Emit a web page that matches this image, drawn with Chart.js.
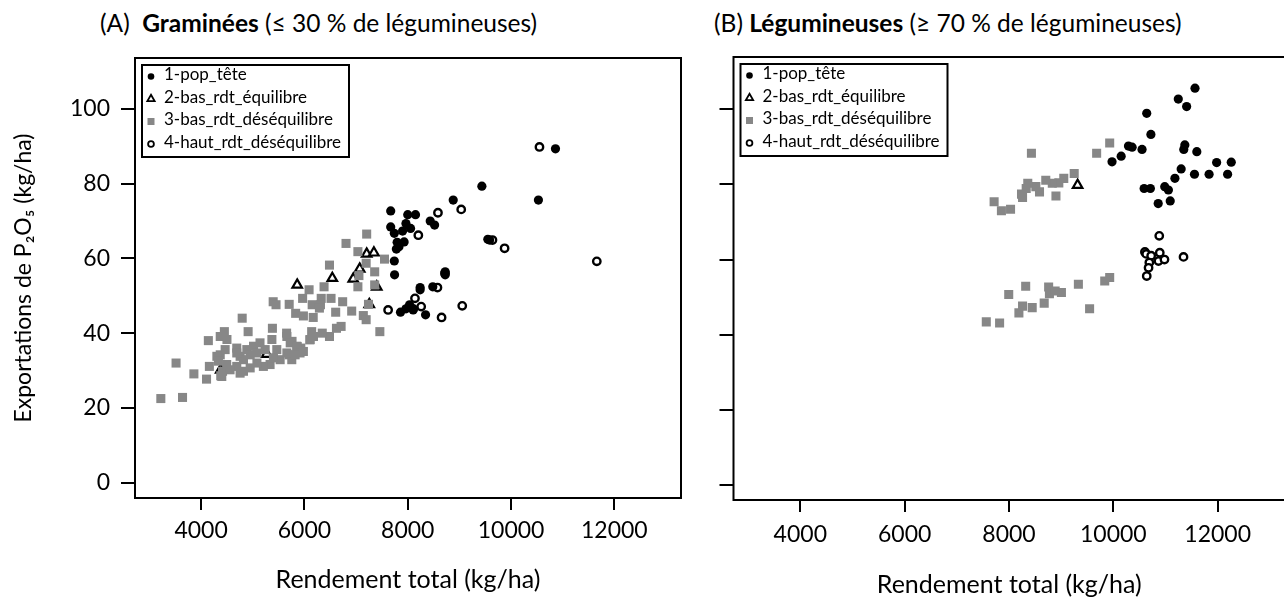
<!DOCTYPE html>
<html lang="fr">
<head>
<meta charset="utf-8">
<title>Exportations de P2O5</title>
<script src="https://cdn.jsdelivr.net/npm/chart.js"></script>
<style>
  html, body { margin: 0; padding: 0; background: #fff; overflow: hidden; }
  body { width: 1284px; height: 600px; position: relative; font-family: Lato, "Open Sans", sans-serif; }
  canvas { position: absolute; top: 0; }
  #chartA { left: 0; }
  #chartB { left: 700px; }
  .panelTitle { position: absolute; top: 8px; font-size: 24.5px; line-height: 30px; white-space: pre; color: #000; }
  .panelTitle b { font-weight: 700; }
</style>
</head>
<body>
<div class="panelTitle" style="left:100px">(A)  <b>Graminées</b> (≤ 30 % de légumineuses)</div>
<div class="panelTitle" style="left:714px">(B) <b>Légumineuses</b> (≥ 70 % de légumineuses)</div>
<canvas id="chartA" width="700" height="600"></canvas>
<canvas id="chartB" width="600" height="600"></canvas>
<script>
/* exportations P2O5 vs rendement */

const seriesLabels = ['1-pop_tête', '2-bas_rdt_équilibre', '3-bas_rdt_déséquilibre', '4-haut_rdt_déséquilibre'];
const xTicks = [4000, 6000, 8000, 10000, 12000];
const yTicks = [0, 20, 40, 60, 80, 100];

// (A) Graminées : [rendement, exportation]
const gramPopTete = [
  [10860, 89.3], [9435, 79.3], [8880, 75.6], [10530, 75.6], [7670, 72.7], [8000, 71.7], [8150, 71.7],
  [7670, 68.4], [7900, 67.3], [7740, 66.7], [8055, 68.0], [8435, 70.0], [8520, 68.9], [7965, 69.3],
  [7795, 64.3], [7930, 64.4], [7830, 63.1], [7780, 62.5], [7740, 59.3], [7745, 55.6], [9550, 65.1],
  [9585, 64.9], [8725, 56.4], [8725, 55.6], [8240, 52.2], [8240, 51.6], [8485, 52.4], [8035, 47.6],
  [7965, 46.5], [7860, 45.6], [8105, 46.2], [8345, 44.9]
];
const gramBasEquilibre = [
  [5860, 52.9], [6540, 54.7], [6945, 54.5], [7070, 57.2], [7205, 61.2], [7345, 61.5], [7400, 52.4],
  [7255, 47.7], [4380, 30.2], [5270, 34.4]
];
const gramBasDesequilibre = [
  [7205, 66.5], [6805, 64.0], [7035, 61.8], [7195, 58.7], [7550, 59.8], [6485, 58.2], [7360, 56.4],
  [7055, 55.4], [7360, 52.9], [7035, 52.4], [6380, 52.4], [6090, 51.6], [6515, 49.3], [6325, 49.3],
  [5965, 49.3], [5395, 48.4], [5450, 47.6], [5705, 47.7], [6740, 48.4], [6150, 47.6], [6310, 47.6],
  [5830, 45.3], [5980, 44.6], [6170, 44.2], [6290, 46.7], [6605, 45.6], [6915, 45.9], [7240, 47.7],
  [7140, 44.7], [7195, 43.6], [7460, 40.4], [4795, 44.0], [6710, 41.8], [6620, 41.3], [6485, 39.1],
  [6345, 40.0], [6140, 40.4], [6105, 38.2], [5930, 36.0], [5760, 37.8], [5705, 34.2], [5860, 36.4],
  [5655, 40.0], [5380, 41.3], [4910, 40.4], [4450, 40.4], [4140, 38.0], [3515, 32.0], [4160, 31.1],
  [3860, 29.1], [4105, 27.7], [3220, 22.5], [3640, 22.8], [4380, 28.6], [4415, 29.8],
  [4370, 39.1], [4500, 38.3], [4690, 36.0], [4370, 34.2], [4465, 35.6], [4755, 33.8], [4885, 35.6],
  [5015, 36.5], [5140, 37.4], [5370, 38.3], [5465, 35.6], [5660, 39.1], [5725, 37.4], [5850, 36.5],
  [5915, 34.7], [5755, 32.9], [5530, 32.9], [5335, 31.6], [5205, 31.1], [5080, 32.0], [4950, 30.7],
  [4820, 29.8], [4690, 31.1], [4560, 30.2], [4400, 28.4], [4495, 31.6], [4820, 32.9], [4950, 34.2],
  [5080, 34.7], [5240, 35.6], [5660, 34.7], [5820, 34.2], [5980, 35.1], [6110, 38.3], [6175, 39.1],
  [5400, 33.4], [4305, 33.8], [4335, 32.5], [4755, 29.3], [4690, 34.7]
];
const gramHautDesequilibre = [
  [10550, 89.8], [9035, 73.1], [8585, 72.2], [8205, 66.2], [9640, 64.9], [9875, 62.7], [11660, 59.2],
  [8720, 56.0], [8575, 52.2], [8140, 49.3], [8260, 47.1], [8105, 46.5], [7620, 46.2], [9055, 47.3],
  [8655, 44.2]
];

// (B) Légumineuses
const legPopTete = [
  [11565, 105.6], [11245, 102.7], [11405, 100.7], [10640, 98.9], [10720, 93.3], [9975, 86.0],
  [10150, 87.5], [10290, 90.2], [10360, 89.9], [10550, 89.3], [11370, 90.5], [11350, 89.3],
  [11600, 88.7], [11300, 84.1], [11180, 81.6], [11555, 82.7], [11835, 82.7], [11980, 85.8],
  [12260, 85.9], [12190, 82.7], [10590, 78.9], [10710, 78.9], [10985, 79.4], [11055, 78.5],
  [10860, 74.9], [11090, 75.6]
];
const legBasEquilibre = [
  [9315, 79.8]
];
const legBasDesequilibre = [
  [8430, 88.3], [9680, 88.3], [9930, 91.0], [9250, 82.9], [9050, 81.6], [8955, 80.4], [8830, 80.3],
  [8705, 81.1], [8585, 78.0], [8515, 79.4], [8360, 80.3], [8330, 78.9], [8240, 77.4], [8260, 76.5],
  [8900, 76.9], [7715, 75.4], [7855, 73.0], [8030, 73.4],
  [7565, 43.4], [7820, 43.1], [7995, 50.7], [8320, 52.9], [8190, 45.8], [8260, 47.6], [8445, 47.2],
  [8675, 48.4], [8760, 52.7], [8775, 50.9], [8885, 51.6], [9005, 51.2], [9330, 53.4], [9545, 46.9],
  [9835, 54.3], [9930, 55.2]
];
const legHautDesequilibre = [
  [10880, 66.3], [10605, 62.0], [10630, 61.5], [10725, 61.0], [10890, 61.8], [10865, 59.6],
  [10980, 60.0], [10690, 59.2], [10675, 57.8], [10640, 55.6], [11345, 60.7]
];


Chart.defaults.font.family = 'Lato, "Open Sans", sans-serif';
Chart.defaults.color = '#000';

const GREY = '#878787';

// styles des 4 groupes (order : 0 = dessus)
const pointStyles = [
  { pointStyle: 'circle',   radius: 4.6, backgroundColor: '#000', borderColor: '#000', borderWidth: 0,   order: 0 },
  { pointStyle: 'triangle', radius: 5.5, backgroundColor: '#fff', borderColor: '#000', borderWidth: 2.2, order: 3 },
  { pointStyle: 'rect',     radius: 6.4, backgroundColor: GREY,   borderColor: GREY,   borderWidth: 0,   order: 1 },
  { pointStyle: 'circle',   radius: 3.7, backgroundColor: '#fff', borderColor: '#000', borderWidth: 2.4, order: 2 },
];

function toXY(pairs) {
  return pairs.map(p => ({ x: p[0], y: p[1] }));
}

function drawLegendMarker(ctx, i, x, y) {
  ctx.save();
  ctx.beginPath();
  if (i === 0) {
    ctx.fillStyle = '#000';
    ctx.arc(x, y, 3.3, 0, Math.PI * 2);
    ctx.fill();
  } else if (i === 1) {
    const r = 4.2;
    ctx.moveTo(x, y - r);
    ctx.lineTo(x + r * 0.866, y + r * 0.5);
    ctx.lineTo(x - r * 0.866, y + r * 0.5);
    ctx.closePath();
    ctx.lineWidth = 1.8;
    ctx.strokeStyle = '#000';
    ctx.stroke();
  } else if (i === 2) {
    ctx.fillStyle = GREY;
    ctx.fillRect(x - 3.5, y - 3.5, 7, 7);
  } else {
    ctx.arc(x, y, 2.9, 0, Math.PI * 2);
    ctx.lineWidth = 1.8;
    ctx.strokeStyle = '#000';
    ctx.stroke();
  }
  ctx.restore();
}

// cadre noir autour de la zone de tracé
const framePlugin = {
  id: 'frame',
  afterDraw(chart) {
    const { ctx, chartArea } = chart;
    ctx.save();
    ctx.lineWidth = 2;
    ctx.strokeStyle = '#000';
    ctx.strokeRect(chartArea.left, chartArea.top, chartArea.right - chartArea.left, chartArea.bottom - chartArea.top);
    ctx.restore();
  }
};

// légende encadrée dans le coin haut gauche
const legendBoxPlugin = {
  id: 'legendBox',
  afterDatasetsDraw(chart) {
    const { ctx, chartArea } = chart;
    const left = chartArea.left + 7;
    const top = chartArea.top + 7;
    ctx.save();
    ctx.fillStyle = '#fff';
    ctx.fillRect(left, top, 207, 92);
    ctx.lineWidth = 2;
    ctx.strokeStyle = '#000';
    ctx.strokeRect(left, top, 207, 92);
    ctx.font = '17px Lato, "Open Sans", sans-serif';
    ctx.textBaseline = 'middle';
    ctx.fillStyle = '#000';
    seriesLabels.forEach((label, i) => {
      const y = top + 10 + i * 22.5;
      drawLegendMarker(ctx, i, left + 9, y + 1.5);
      ctx.fillText(label, left + 22, y);
    });
    ctx.restore();
  }
};


class MyScatterChart {
  constructor(id, inputSeries, layout) {
    this.id = id;
    this.inputSeries = inputSeries;
    this.layout = layout;

    this.createChart();
  }

  createConfig(inputData) {
    const L = this.layout;
    const config = {
      type: 'scatter',
      data: inputData,
      options: {
        responsive: false,
        animation: false,
        events: [],
        layout: { padding: L.padding },
        plugins: {
          legend: { display: false },
          tooltip: { enabled: false }
        },
        scales: {
          x: {
            type: 'linear',
            min: 2720,
            max: 13290,
            afterBuildTicks: (scale) => { scale.ticks = xTicks.map(v => ({ value: v })); },
            afterFit: (scale) => { scale.height = L.xAxisHeight; },
            ticks: {
              callback: (value) => String(value),
              font: { size: 23 },
              color: '#000',
              padding: L.xTickPadding,
              maxRotation: 0,
              autoSkip: false
            },
            grid: { drawOnChartArea: false, drawTicks: true, tickLength: 12, color: '#000', lineWidth: 2 },
            border: { display: false },
            title: {
              display: true,
              text: 'Rendement total (kg/ha)',
              font: { size: 25 },
              color: '#000',
              padding: { top: 0, bottom: L.xTitlePadding }
            }
          },
          y: {
            type: 'linear',
            min: L.yMin,
            max: L.yMax,
            afterBuildTicks: (scale) => { scale.ticks = yTicks.map(v => ({ value: v })); },
            afterFit: (scale) => { scale.width = L.yAxisWidth; },
            ticks: {
              display: L.showYLabels,
              font: { size: 23 },
              color: '#000',
              padding: 11
            },
            grid: { drawOnChartArea: false, drawTicks: true, tickLength: 14, color: '#000', lineWidth: 2 },
            border: { display: false },
            title: {
              display: L.showYLabels,
              text: 'Exportations de P₂O₅ (kg/ha)',
              font: { size: 23 },
              color: '#000',
              padding: { top: 10, bottom: 0 }
            }
          }
        }
      },
      plugins: [legendBoxPlugin, framePlugin]
    };
    return config;
  }

  createData() {
    const data = {
      datasets: this.inputSeries.map((series, i) => ({
        label: seriesLabels[i],
        data: toXY(series),
        pointStyle: pointStyles[i].pointStyle,
        pointRadius: pointStyles[i].radius,
        pointBackgroundColor: pointStyles[i].backgroundColor,
        pointBorderColor: pointStyles[i].borderColor,
        pointBorderWidth: pointStyles[i].borderWidth,
        order: pointStyles[i].order,
        showLine: false
      }))
    };
    return data;
  }

  createChart() {
    const data = this.createData();
    const config = this.createConfig(data);
    const ctx = document.getElementById(this.id).getContext('2d');
    new Chart(ctx, config);
  }
}


const chartA = new MyScatterChart('chartA',
  [gramPopTete, gramBasEquilibre, gramBasDesequilibre, gramHautDesequilibre],
  { padding: { left: 0, right: 19, top: 58, bottom: 0 }, yAxisWidth: 135, xAxisHeight: 102,
    yMin: -4.1, yMax: 113.6, showYLabels: true, xTickPadding: 7, xTitlePadding: 5 });

const chartB = new MyScatterChart('chartB',
  [legPopTete, legBasEquilibre, legBasDesequilibre, legHautDesequilibre],
  { padding: { left: 0, right: 15, top: 57, bottom: 0 }, yAxisWidth: 33.5, xAxisHeight: 100,
    yMin: -4.0, yMax: 113.9, showYLabels: false, xTickPadding: 9, xTitlePadding: 0 });
</script>
</body>
</html>
